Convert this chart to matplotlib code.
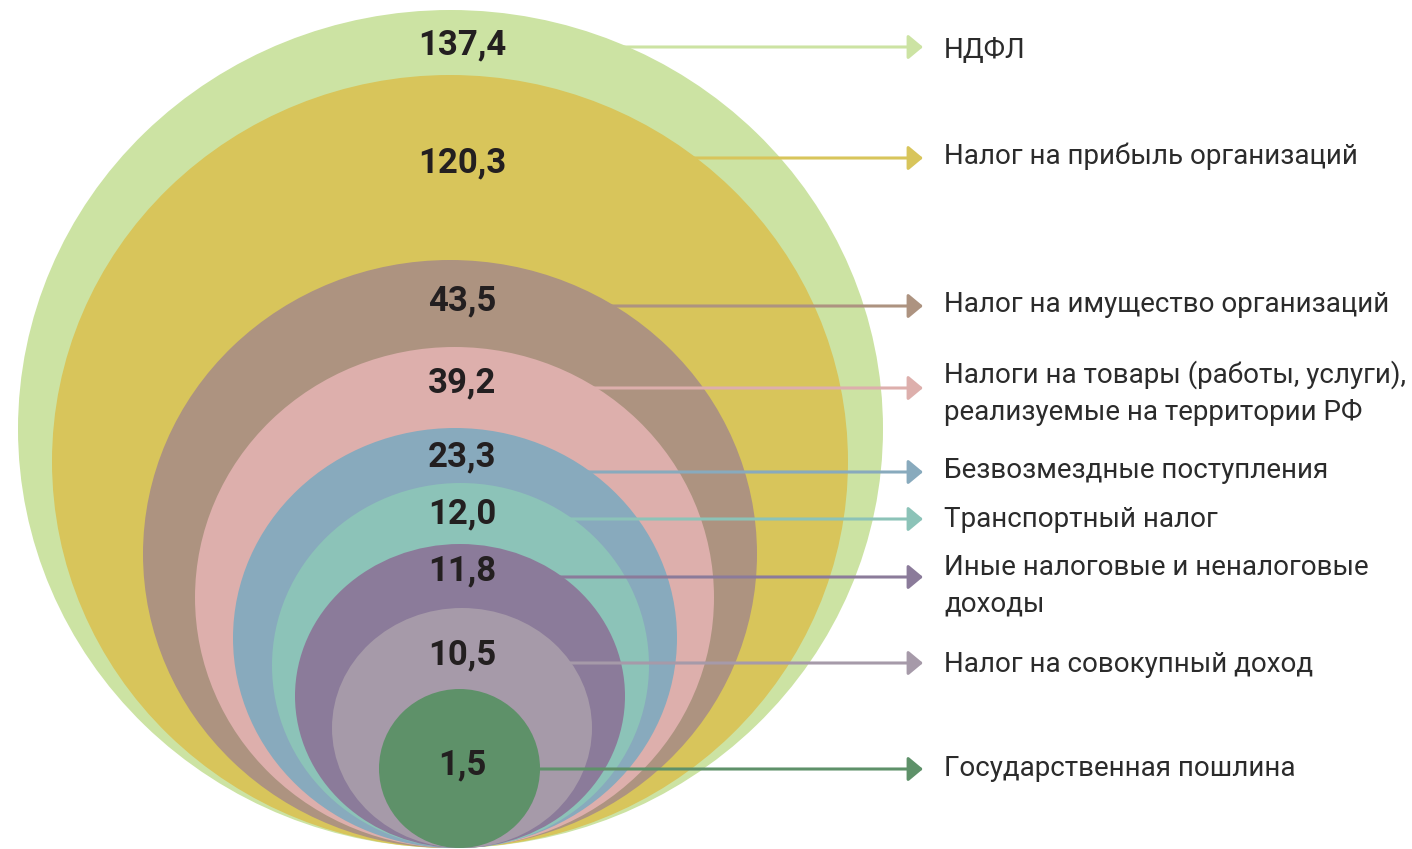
import numpy as np
import matplotlib
matplotlib.use("Agg")
import matplotlib.pyplot as plt
from matplotlib.patches import Ellipse

# Data: revenue items and their values
categories = [
    "НДФЛ",
    "Налог на прибыль организаций",
    "Налог на имущество организаций",
    "Налоги на товары (работы, услуги),\nреализуемые на территории РФ",
    "Безвозмездные поступления",
    "Транспортный налог",
    "Иные налоговые и неналоговые\nдоходы",
    "Налог на совокупный доход",
    "Государственная пошлина",
]
values = [137.4, 120.3, 43.5, 39.2, 23.3, 12.0, 11.8, 10.5, 1.5]

colors = ["#cce3a3", "#d8c55b", "#ad9380", "#ddafac", "#88aabd",
          "#8cc3b8", "#8b7b9a", "#a69aa9", "#5e9169"]

# Layout (pixel coordinates, y grows downward)
shape_left = [18, 52, 143, 195, 233, 272, 295, 332, 379]
shape_right = [883, 848, 757, 714, 677, 649, 625, 592, 540]
shape_top = [10, 75, 260, 347, 428, 483, 544, 608, 689]
shape_bottom = 848
value_y = [42, 160, 298, 380, 454, 511, 568, 652, 762]
arrow_y = [47, 158, 306, 388, 472, 519, 577, 663, 769]
# y of the cap-height centre of the first text line
text_y = [48, 154, 302, 373, 468, 517, 565, 662, 766]

W, H = 1412, 849
fig = plt.figure(figsize=(W / 100, H / 100), dpi=100)
ax = fig.add_axes([0, 0, 1, 1])
ax.set_xlim(0, W)
ax.set_ylim(H, 0)
ax.axis("off")

label_size = 20
cap_px = 0.711 * label_size * 100 / 72
line_px = 37

for i, (cat, val) in enumerate(zip(categories, values)):
    cx = (shape_left[i] + shape_right[i]) / 2
    w = shape_right[i] - shape_left[i]
    h = shape_bottom - shape_top[i]
    cy = (shape_top[i] + shape_bottom) / 2
    ax.add_patch(Ellipse((cx, cy), w, h, facecolor=colors[i], edgecolor="none", zorder=i))

    # value label inside the shape
    ax.text(462, value_y[i] + 12.5, f"{val:.1f}".replace(".", ","), ha="center", va="baseline",
            fontsize=25, fontweight="bold", family="Roboto", color="#231f20", zorder=20)

    # arrow from the shape edge to the category label
    y = arrow_y[i]
    dy = (y - cy) / (h / 2)
    x0 = cx + (w / 2) * np.sqrt(max(0.0, 1 - dy ** 2)) - 4
    ax.annotate("", xy=(923, y), xytext=(x0, y),
                arrowprops=dict(arrowstyle="-|>,head_length=0.9,head_width=0.75",
                                color=colors[i], lw=2.2, mutation_scale=10,
                                shrinkA=0, shrinkB=0),
                zorder=15)

    # category label, one text per line
    for k, line in enumerate(cat.split("\n")):
        ax.text(944, text_y[i] + cap_px / 2 + k * line_px, line, ha="left", va="baseline",
                fontsize=label_size, family="Roboto", color="#2b2b2b", zorder=20)

fig.savefig("out.png", dpi=100)
